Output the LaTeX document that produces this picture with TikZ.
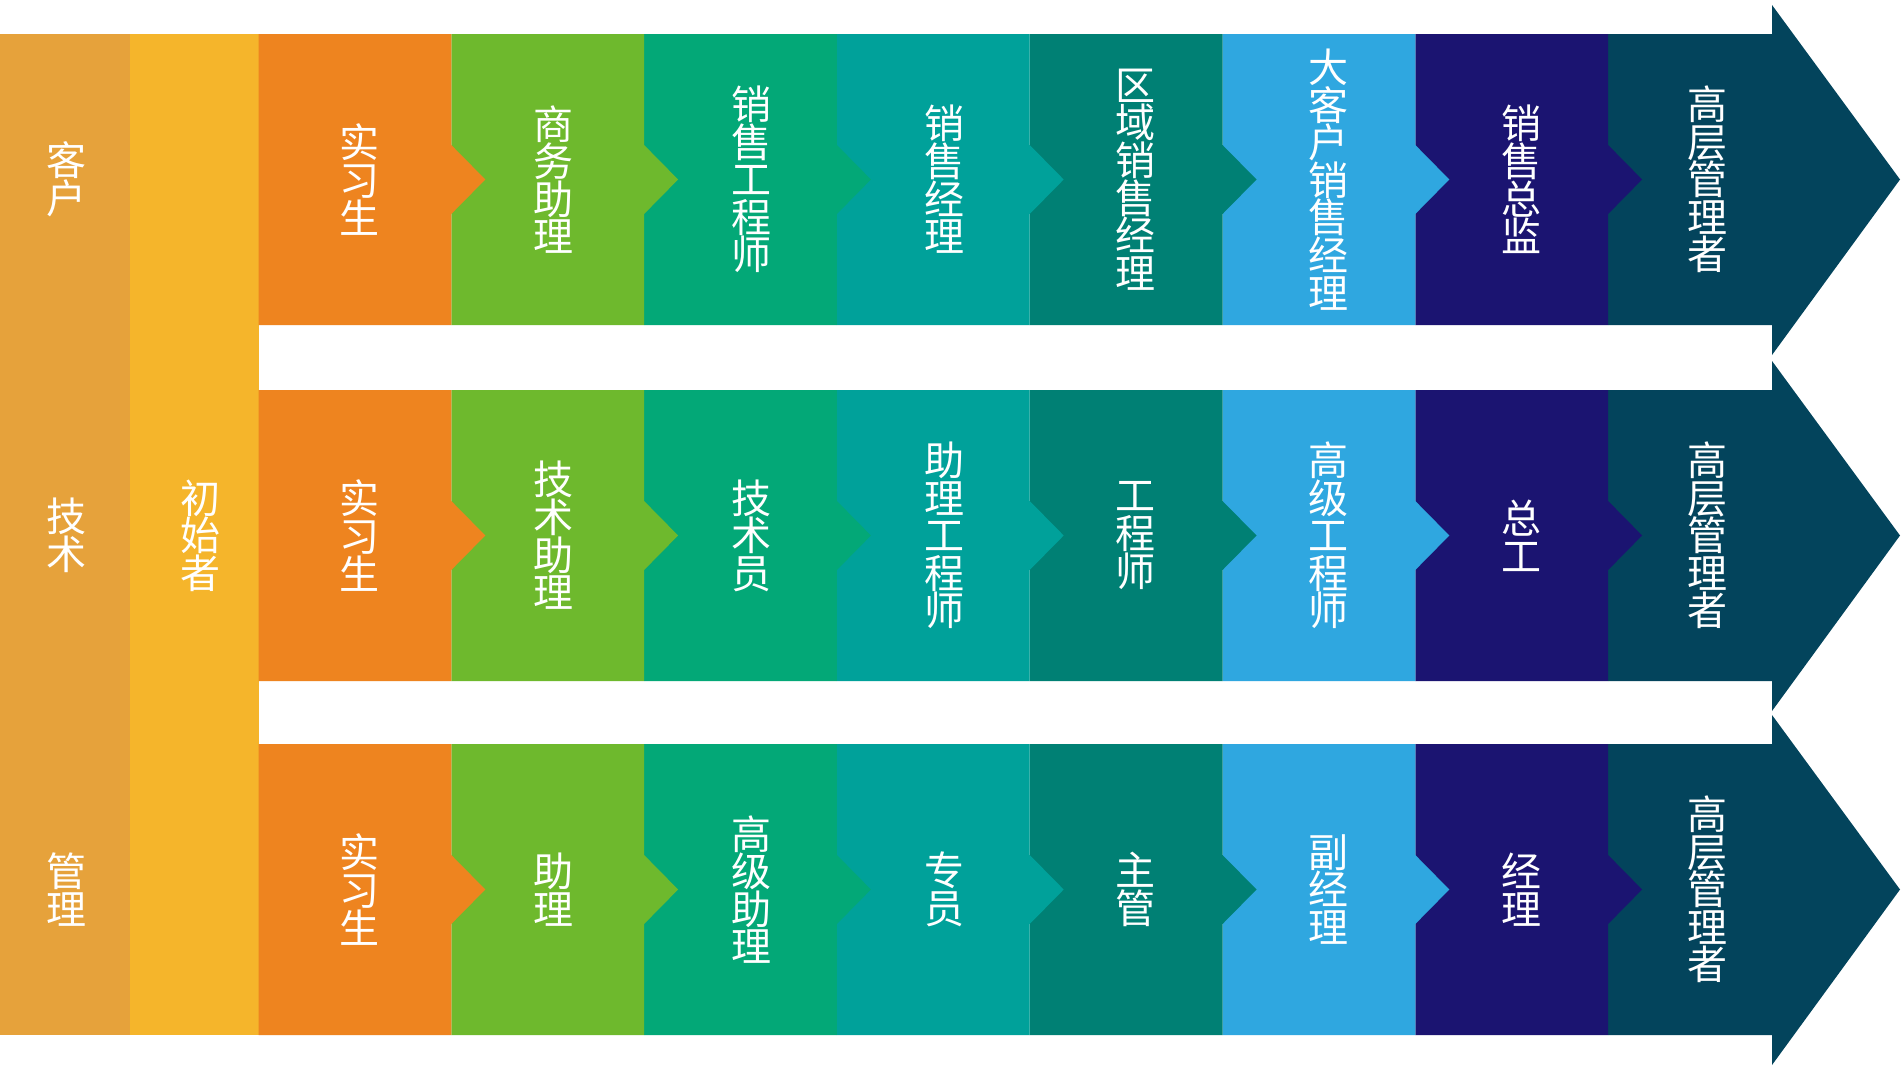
\documentclass[tikz,border=0pt]{standalone}
\usepackage{fontspec}
\newfontfamily\cjk{Noto Sans CJK SC}
\definecolor{cA}{HTML}{E6A23B}
\definecolor{cB}{HTML}{F5B52B}
\definecolor{c0}{HTML}{EE841F}
\definecolor{c1}{HTML}{6EB92D}
\definecolor{c2}{HTML}{03A877}
\definecolor{c3}{HTML}{00A19A}
\definecolor{c4}{HTML}{008074}
\definecolor{c5}{HTML}{2FA7E0}
\definecolor{c6}{HTML}{1B1471}
\definecolor{c7}{HTML}{03445C}
\begin{document}
\begin{tikzpicture}[x=1pt,y=-1pt,
  lbl/.style={text=white,font=\cjk\fontsize{40}{37.6}\selectfont,align=center,inner sep=0pt}]
\useasboundingbox (0,0) rectangle (1903,1068);
\fill[white] (0,0) rectangle (1903,1068);
\fill[cA] (0,34) rectangle (130,1035);
\fill[cB] (130,34) rectangle (258.5,1035);
\foreach \T in {34,390,744}{
  \pgfmathsetmacro\B{\T+291}
  \pgfmathsetmacro\C{\T+145.5}
  \fill[c7] (1608,\T) -- (1772,\T) -- (1772,\T-29) -- (1900,\C) -- (1772,\B+30) -- (1772,\B) -- (1608,\B) -- cycle;
  \foreach \i/\col in {6/c6,5/c5,4/c4,3/c3,2/c2,1/c1,0/c0}{
    \pgfmathsetmacro\xl{258.5+192.8*\i}
    \pgfmathsetmacro\xr{\xl+192.8}
    \fill[\col] (\xl,\T) -- (\xr,\T) -- (\xr,\C-34.5) -- (\xr+34,\C) -- (\xr,\C+34.5) -- (\xr,\B) -- (\xl,\B) -- cycle;
  }
}
% left columns
\node[lbl] (kehu) at (66,179.5) {客\\户};
\node[lbl] (jishu) at (66,535.5) {技\\术};
\node[lbl] (guanli) at (66,889.5) {管\\理};
\node[lbl] (chushi) at (200,535.5) {初\\始\\者};
% row 1
\node[lbl] (a0) at (359,179.5) {实\\习\\生};
\node[lbl] (a1) at (553,179.5) {商\\务\\助\\理};
\node[lbl] (a2) at (751,179.5) {销\\售\\工\\程\\师};
\node[lbl] (a3) at (944,179.5) {销\\售\\经\\理};
\node[lbl] (a4) at (1135,179.5) {区\\域\\销\\售\\经\\理};
\node[lbl] (a5) at (1328,179.5) {大\\客\\户\\销\\售\\经\\理};
\node[lbl] (a6) at (1521,179.5) {销\\售\\总\\监};
\node[lbl] (a7) at (1707,179.5) {高\\层\\管\\理\\者};
% row 2
\node[lbl] (b0) at (359,535.5) {实\\习\\生};
\node[lbl] (b1) at (553,535.5) {技\\术\\助\\理};
\node[lbl] (b2) at (751,535.5) {技\\术\\员};
\node[lbl] (b3) at (944,535.5) {助\\理\\工\\程\\师};
\node[lbl] (b4) at (1135,535.5) {工\\程\\师};
\node[lbl] (b5) at (1328,535.5) {高\\级\\工\\程\\师};
\node[lbl] (b6) at (1521,535.5) {总\\工};
\node[lbl] (b7) at (1707,535.5) {高\\层\\管\\理\\者};
% row 3
\node[lbl] (c0) at (359,889.5) {实\\习\\生};
\node[lbl] (c1) at (553,889.5) {助\\理};
\node[lbl] (c2) at (751,889.5) {高\\级\\助\\理};
\node[lbl] (c3) at (944,889.5) {专\\员};
\node[lbl] (c4) at (1135,889.5) {主\\管};
\node[lbl] (c5) at (1328,889.5) {副\\经\\理};
\node[lbl] (c6) at (1521,889.5) {经\\理};
\node[lbl] (c7) at (1707,889.5) {高\\层\\管\\理\\者};
\end{tikzpicture}
\end{document}
